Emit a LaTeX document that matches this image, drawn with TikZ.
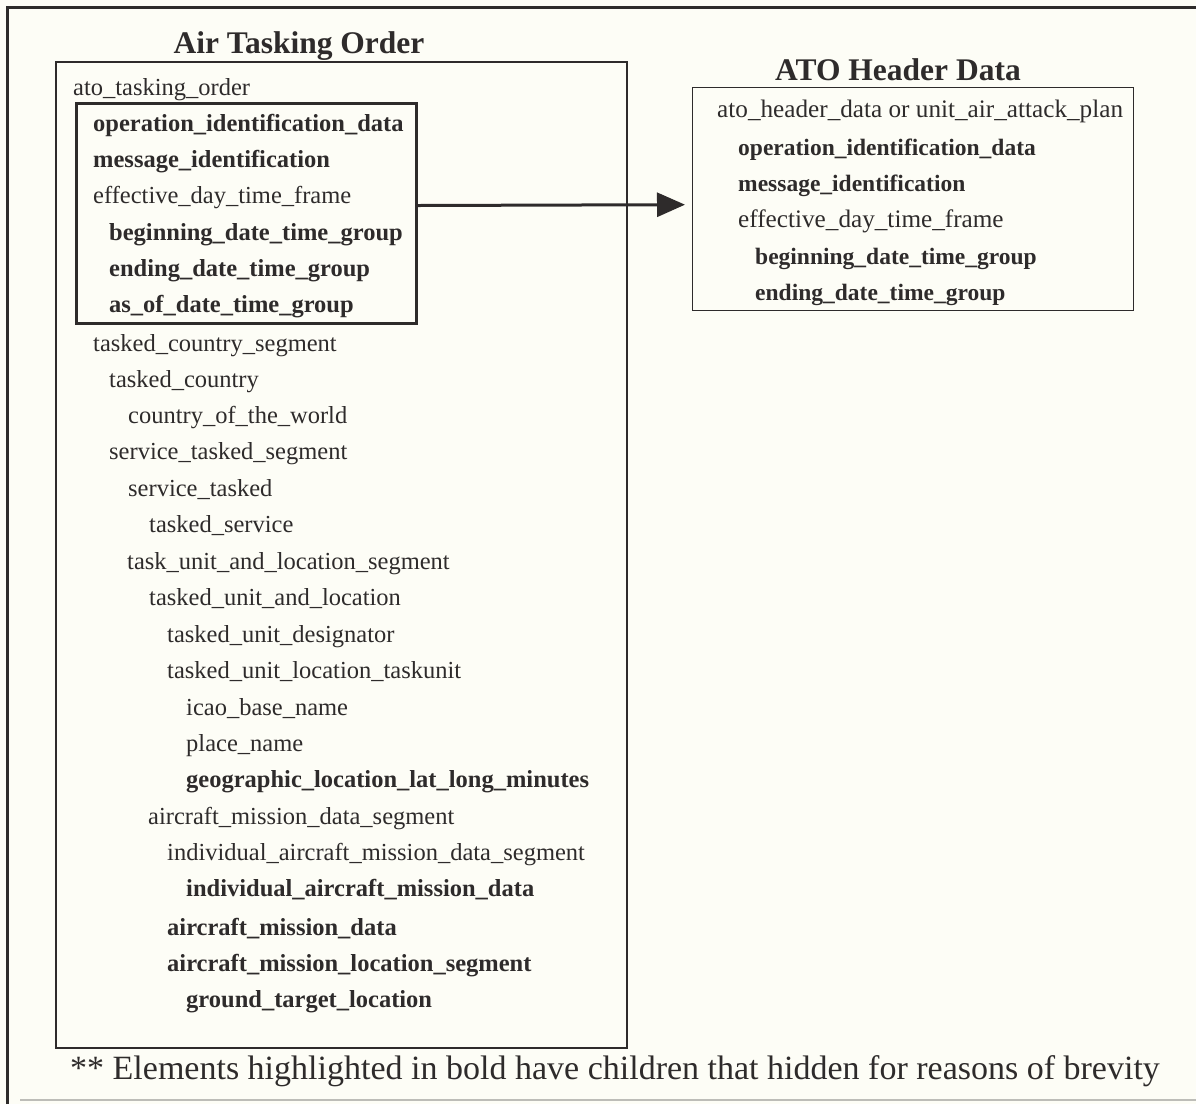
\documentclass[tikz,border=0pt]{standalone}
\usepackage{fontspec}
\setmainfont{Liberation Serif}
\usetikzlibrary{arrows.meta}
\definecolor{paper}{HTML}{FDFDF6}
\definecolor{ink}{HTML}{2E2B2B}
\definecolor{faint}{HTML}{BDBDB8}
\begin{document}
\begin{tikzpicture}[x=1pt,y=-1pt,
  item/.style={anchor=base west, inner sep=0pt, text=ink, font=\fontsize{24.5}{29}\selectfont},
  bolditem/.style={anchor=base west, inner sep=0pt, text=ink, font=\fontsize{24.5}{29}\selectfont\bfseries},
  ritem/.style={anchor=base west, inner sep=0pt, text=ink, font=\fontsize{25.2}{29}\selectfont},
  rbolditem/.style={anchor=base west, inner sep=0pt, text=ink, font=\fontsize{23.5}{29}\selectfont\bfseries},
  heading/.style={anchor=base, inner sep=0pt, text=ink, font=\fontsize{31.5}{36}\selectfont\bfseries},
  panel/.style={draw=ink, anchor=north west, inner sep=0pt, line width=1.6pt},
  selbox/.style={draw=ink, anchor=north west, inner sep=0pt, line width=3pt},
  link/.style={draw=ink, line width=3pt, -{Triangle[length=28pt,width=24pt]}}
]
\useasboundingbox (0,0) rectangle (1196,1104);
\fill[paper] (0,0) rectangle (1196,1104);
% outer frame
\draw[ink, line width=3pt] (7,1104) -- (7,7) -- (1196,7);
\draw[faint, line width=1.5pt] (20,1100) -- (1196,1100);

% headings
\node[heading] (t1) at (299,53) {Air Tasking Order};
\node[heading] (t2) at (898,80) {ATO Header Data};

% panels
\node[panel, minimum width=571pt, minimum height=986pt] (atobox) at (55,61) {};
\node[selbox, minimum width=340pt, minimum height=220pt] (hdrsel) at (75,102) {};
\node[panel, line width=1.3pt, minimum width=441pt, minimum height=223pt] (hdrbox) at (692,87) {};

% left items
\node[item] (l1) at (73,95) {ato\_tasking\_order};
\node[bolditem] (l2) at (93,131) {operation\_identification\_data};
\node[bolditem] (l3) at (93,167) {message\_identification};
\node[item] (l4) at (93,203) {effective\_day\_time\_frame};
\node[bolditem] (l5) at (109,240) {beginning\_date\_time\_group};
\node[bolditem] (l6) at (109,276) {ending\_date\_time\_group};
\node[bolditem] (l7) at (109,312) {as\_of\_date\_time\_group};
\node[item] (l8) at (93,351) {tasked\_country\_segment};
\node[item] (l9) at (109,387) {tasked\_country};
\node[item] (l10) at (128,423) {country\_of\_the\_world};
\node[item] (l11) at (109,459) {service\_tasked\_segment};
\node[item] (l12) at (128,496) {service\_tasked};
\node[item] (l13) at (149,532) {tasked\_service};
\node[item] (l14) at (127,569) {task\_unit\_and\_location\_segment};
\node[item] (l15) at (149,605) {tasked\_unit\_and\_location};
\node[item] (l16) at (167,642) {tasked\_unit\_designator};
\node[item] (l17) at (167,678) {tasked\_unit\_location\_taskunit};
\node[item] (l18) at (186,715) {icao\_base\_name};
\node[item] (l19) at (186,751) {place\_name};
\node[bolditem] (l20) at (186,787) {geographic\_location\_lat\_long\_minutes};
\node[item] (l21) at (148,824) {aircraft\_mission\_data\_segment};
\node[item] (l22) at (167,860) {individual\_aircraft\_mission\_data\_segment};
\node[bolditem] (l23) at (186,896) {individual\_aircraft\_mission\_data};
\node[bolditem] (l24) at (167,935) {aircraft\_mission\_data};
\node[bolditem] (l25) at (167,971) {aircraft\_mission\_location\_segment};
\node[bolditem] (l26) at (186,1007) {ground\_target\_location};

% right items
\node[ritem] (r1) at (717,117) {ato\_header\_data or unit\_air\_attack\_plan};
\node[rbolditem] (r2) at (738,155) {operation\_identification\_data};
\node[rbolditem] (r3) at (738,191) {message\_identification};
\node[ritem] (r4) at (738,227) {effective\_day\_time\_frame};
\node[rbolditem] (r5) at (755,264) {beginning\_date\_time\_group};
\node[rbolditem] (r6) at (755,300) {ending\_date\_time\_group};

% connector
\draw[link, shorten >=7pt] ([yshift=8pt]hdrsel.east) -- ([yshift=-5.5pt]hdrbox.west);

% footnote
\node[anchor=base west, inner sep=0pt, text=ink, font=\fontsize{34}{40}\selectfont] (note) at (70,1079)
  {** Elements highlighted in bold have children that hidden for reasons of brevity};
\end{tikzpicture}
\end{document}
